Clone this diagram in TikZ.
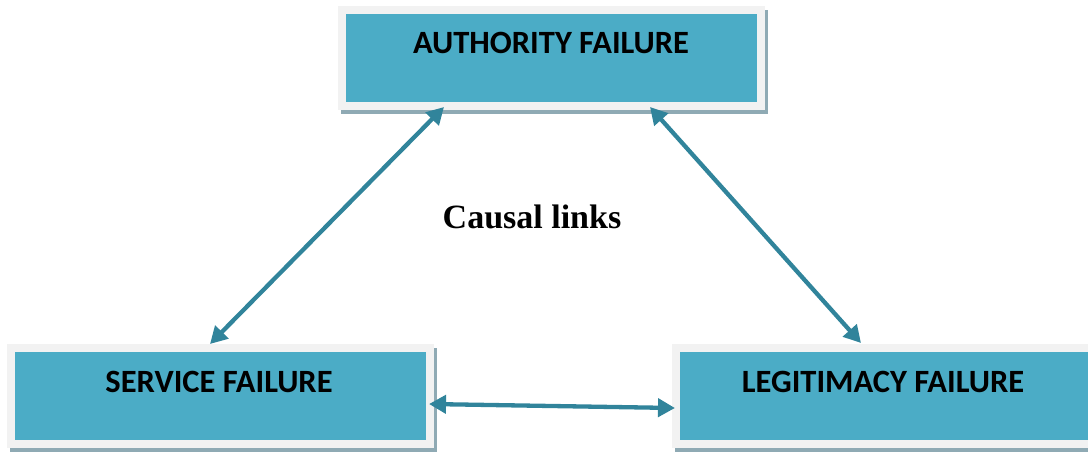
\documentclass[tikz,border=0pt]{standalone}
\usepackage{fontspec}
\newfontfamily\boxfont{Carlito}
\newfontfamily\capfont{Liberation Serif}
\usetikzlibrary{arrows.meta,shadows}
\definecolor{boxteal}{HTML}{4BACC6}
\definecolor{framegray}{HTML}{F2F2F2}
\definecolor{shadowcol}{HTML}{8FAAB4}
\definecolor{arrowcol}{HTML}{31849B}
\tikzset{
  fbox/.style={rectangle, fill=framegray, inner sep=0pt,
    minimum width=427pt, minimum height=104pt,
    drop shadow={shadow xshift=3pt, shadow yshift=-4pt, fill=shadowcol, opacity=1},
    path picture={\fill[boxteal] ([shift={(8pt,8pt)}]path picture bounding box.south west) rectangle ([shift={(-8pt,-8pt)}]path picture bounding box.north east);}},
  ftext/.style={font=\boxfont\bfseries\fontsize{32.5}{36}\selectfont, text=black},
  link/.style={draw=arrowcol, line width=4.3pt, {Triangle[length=17pt,width=18pt]}-{Triangle[length=17pt,width=18pt]}}
}
\begin{document}
\begin{tikzpicture}[x=1pt,y=-1pt]
\useasboundingbox (0,0) rectangle (1088,451);
\node[fbox] (auth) at (551.5,58) {};
\node[fbox] (serv) at (220,396) {};
\node[fbox] (legit) at (885,396) {};
\node[ftext] (authT) at (551,43) {AUTHORITY FAILURE};
\node[ftext] (servT) at (219,382) {SERVICE FAILURE};
\node[ftext] (legitT) at (883,382) {LEGITIMACY FAILURE};
\node[font=\capfont\bfseries\fontsize{34}{38}\selectfont] (causal) at (532,217) {Causal links};
\coordinate (a1) at (444,107);
\coordinate (s1) at (210,344);
\coordinate (a2) at (650,107);
\coordinate (l1) at (861,343);
\coordinate (s2) at (429,404);
\coordinate (l2) at (675,408);
\draw[link] (a1) -- (s1);
\draw[link] (a2) -- (l1);
\draw[link] (s2) -- (l2);
\end{tikzpicture}
\end{document}
